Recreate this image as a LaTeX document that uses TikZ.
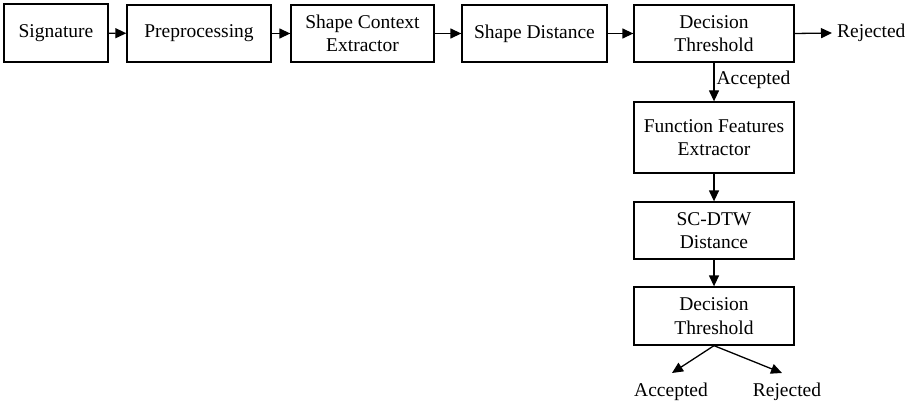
\documentclass[tikz,border=0pt]{standalone}
\usepackage{fontspec}
\setmainfont{Liberation Serif}
\usetikzlibrary{arrows.meta}
\begin{document}
\begin{tikzpicture}[x=1pt,y=-1pt,
  box/.style={draw,line width=1.3pt,align=center,inner sep=0pt,minimum height=57pt},
  lbl/.style={inner sep=0pt,font=\fontsize{19.5}{23.5}\selectfont},
  every node/.append style={font=\fontsize{19.5}{23.5}\selectfont},
  arr/.style={line width=1.3pt,-{Triangle[length=11pt,width=10pt]}},
]
\useasboundingbox (0,0) rectangle (912,406);
\node[box,minimum width=104pt,minimum height=58pt] (sig) at (56,33) {Signature};
\node[box,minimum width=144pt] (pre) at (199,33.5) {Preprocessing};
\node[box,minimum width=143pt] (sce) at (362.5,33.5) {Shape Context\\Extractor};
\node[box,minimum width=145pt] (sd) at (534.5,33.5) {Shape Distance};
\node[box,minimum width=160pt] (dt1) at (714,33.5) {Decision\\Threshold};
\node[lbl,anchor=west] (rej1) at (837,33) {Rejected};
\node[box,minimum width=160pt,minimum height=71pt] (ffe) at (714,137.5) {Function Features\\Extractor};
\node[box,minimum width=160pt] (dtw) at (714,230.5) {SC-DTW\\Distance};
\node[box,minimum width=160pt,minimum height=58pt] (dt2) at (714,316) {Decision\\Threshold};
\node[lbl] (acc2) at (671,392) {Accepted};
\node[lbl] (rej2) at (787,392) {Rejected};
\coordinate (ta) at (672,373);
\coordinate (tr) at (782,373);

\draw[arr] (sig) -- (pre);
\draw[arr] (pre) -- (sce);
\draw[arr] (sce) -- (sd);
\draw[arr] (sd) -- (dt1);
\draw[arr] (dt1.east) -- ([xshift=-5pt]rej1.west);
\draw[arr] (dt1) -- node[lbl,right=2pt,pos=0.45] (acc1) {Accepted} (ffe);
\draw[arr] (ffe) -- (dtw);
\draw[arr] (dtw) -- (dt2);
\draw[arr] (dt2.south) -- (ta);
\draw[arr] (dt2.south) -- (tr);
\end{tikzpicture}
\end{document}
